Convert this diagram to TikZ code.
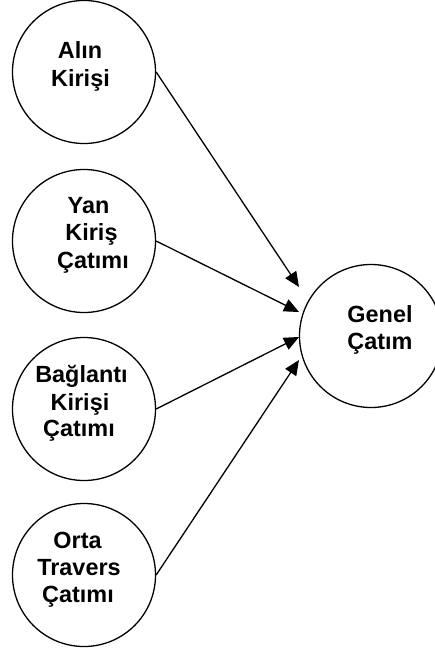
\documentclass[tikz,border=0pt]{standalone}
\usepackage{fontspec}
\setmainfont{Liberation Sans}
\usetikzlibrary{arrows.meta}
\begin{document}
\begin{tikzpicture}[x=1bp,y=-1bp,
  circ/.style={draw=black,line width=1.3bp,circle,minimum size=143bp,inner sep=0pt},
  lbl/.style={anchor=base,inner sep=0pt,font=\fontsize{23.5}{28}\selectfont\bfseries},
  arr/.style={draw=black,line width=1.3bp,-{Triangle[length=15bp,width=13bp]}}]
  \useasboundingbox (0,0) rectangle (435,655);

  % source circles
  \node[circ] (alin) at (84,72) {};
  \node[circ] (yan)  at (84,241) {};
  \node[circ] (bag)  at (84,409) {};
  \node[circ] (orta) at (84,575) {};
  % target circle
  \node[circ] (genel) at (371,336) {};

  % labels
  \node[lbl] (alin1) at (80,59) {Alın};
  \node[lbl] (alin2) at (80.5,87) {Kirişi};
  \node[lbl] (yan1) at (88.5,213) {Yan};
  \node[lbl] (yan2) at (91.5,240) {Kiriş};
  \node[lbl] (yan3) at (93,268) {Çatımı};
  \node[lbl] (bag1) at (81.5,382) {Bağlantı};
  \node[lbl] (bag2) at (80,410) {Kirişi};
  \node[lbl] (bag3) at (79,436) {Çatımı};
  \node[lbl] (orta1) at (77.5,548) {Orta};
  \node[lbl] (orta2) at (79,575) {Travers};
  \node[lbl] (orta3) at (78,602) {Çatımı};
  \node[lbl] (gen1) at (380,322) {Genel};
  \node[lbl] (gen2) at (380,349) {Çatım};

  % arrow tips in front of the target circle
  \coordinate (t1) at (299,287);
  \coordinate (t2) at (299,312);
  \coordinate (t3) at (299,337);
  \coordinate (t4) at (299,360);

  \draw[arr] (alin.east) -- (t1);
  \draw[arr] (yan.east) -- (t2);
  \draw[arr] (bag.east) -- (t3);
  \draw[arr] (orta.east) -- (t4);
\end{tikzpicture}
\end{document}
